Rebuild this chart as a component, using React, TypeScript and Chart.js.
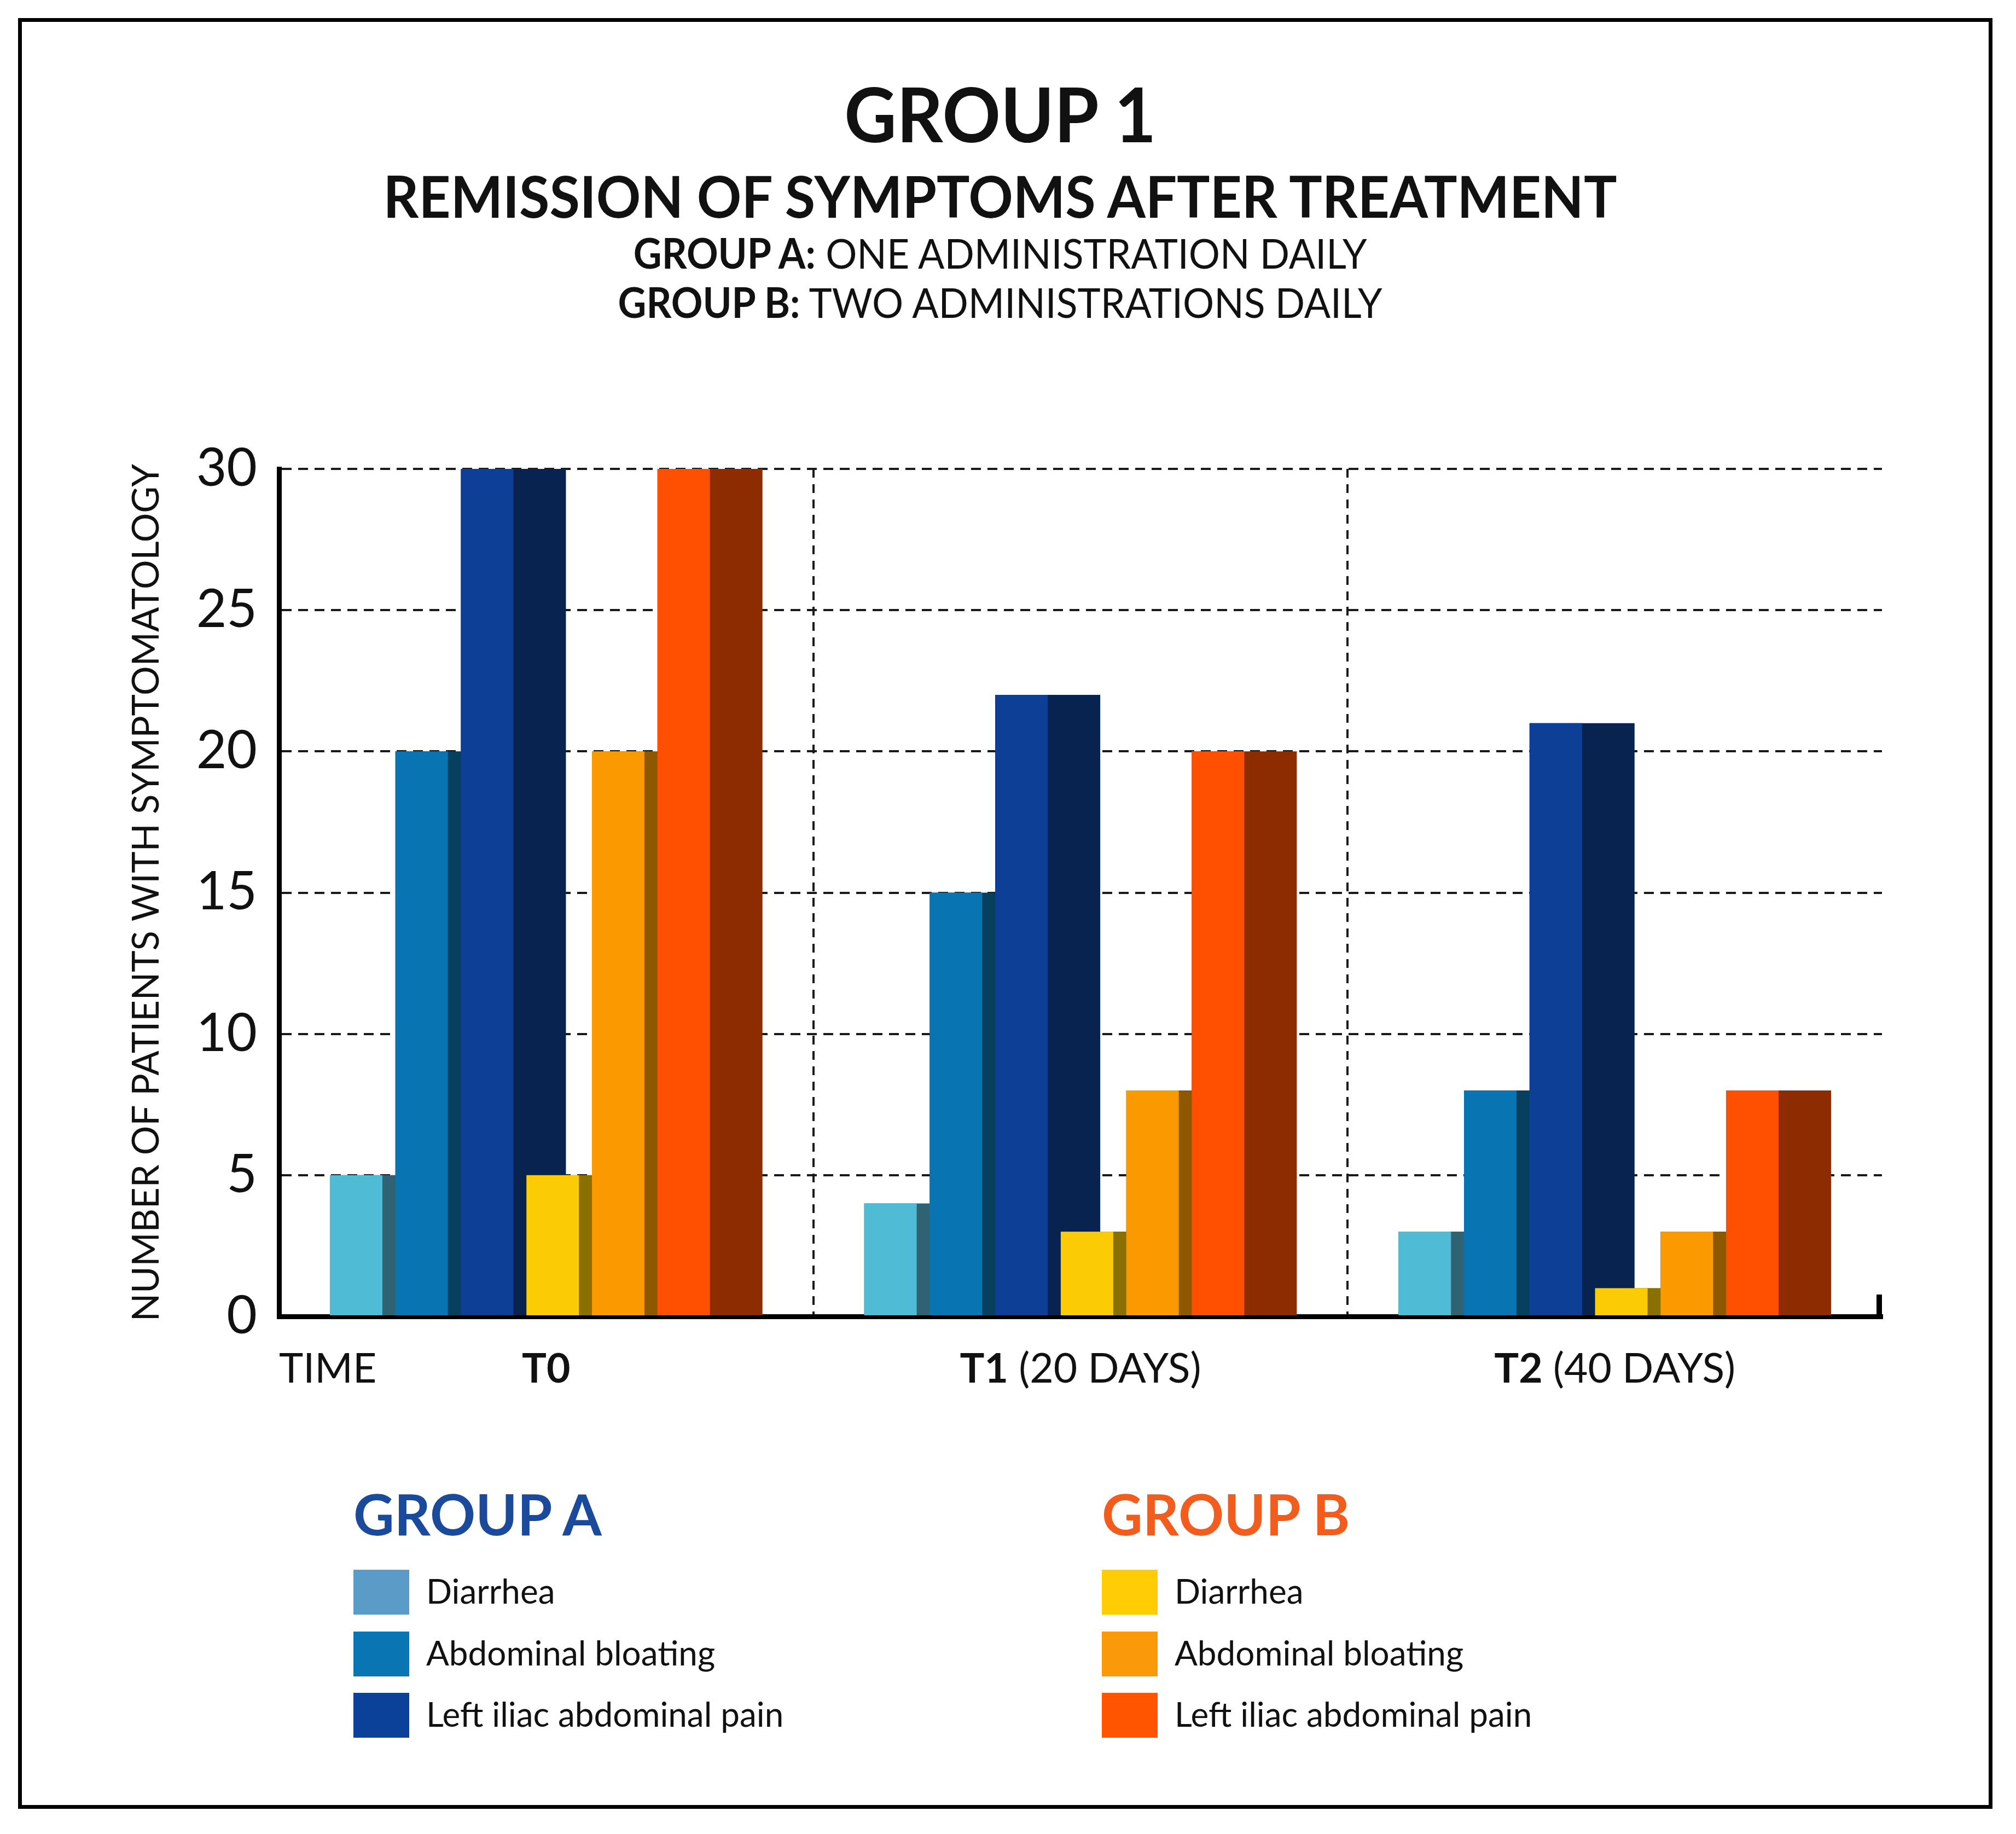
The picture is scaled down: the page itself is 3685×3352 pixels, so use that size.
import React, { useEffect, useRef } from "react";
import { Chart, registerables } from "chart.js";

Chart.register(...registerables);

// ---------- data ----------
const categories = ["T0", "T1 (20 DAYS)", "T2 (40 DAYS)"];
const xAxisLabel = "TIME";
const yAxisTitle = "NUMBER OF PATIENTS WITH SYMPTOMATOLOGY";
const yTicks = [0, 5, 10, 15, 20, 25, 30];

const symptoms = ["Diarrhea", "Abdominal bloating", "Left iliac abdominal pain"];
const groupADiarrhea = [5, 4, 3];
const groupABloating = [20, 15, 8];
const groupAPain = [30, 22, 21];
const groupBDiarrhea = [5, 3, 1];
const groupBBloating = [20, 8, 3];
const groupBPain = [30, 20, 8];

const titleText = "GROUP 1";
const subtitleText = "REMISSION OF SYMPTOMS AFTER TREATMENT";
const groupADesc = ["GROUP A:", "ONE ADMINISTRATION DAILY"];
const groupBDesc = ["GROUP B:", "TWO ADMINISTRATIONS DAILY"];
const groupAName = "GROUP A";
const groupBName = "GROUP B";

// ---------- styles ----------
const W = 3685;
const H = 3352;
const FONT = "Lato";
const INK = "#111111";

const frontColors = ["#50BBD5", "#0875B2", "#0D3F97", "#FBCB05", "#FA9900", "#FF4F00"];
const sideColors = ["#2F6374", "#073F5F", "#08234F", "#8A7000", "#8E5800", "#8C2C00"];
const legendAColors = ["#5B9BC8", "#0A75B3", "#0C419A"];
const legendBColors = ["#FFCC05", "#FA9A0A", "#FF5400"];
const groupAColor = "#1A4A9B";
const groupBColor = "#F25C1C";

const frontPlugin = {
  id: "barFronts",
  afterDatasetsDraw(chart: any) {
    const ctx = chart.ctx;
    chart.data.datasets.forEach((ds: any, di: number) => {
      const meta = chart.getDatasetMeta(di);
      meta.data.forEach((el: any) => {
        const { x, y, base, width } = el.getProps(["x", "y", "base", "width"], true);
        ctx.save();
        ctx.fillStyle = ds.frontColor;
        ctx.fillRect(x - width / 2, Math.min(y, base), width / 2, Math.abs(base - y));
        ctx.restore();
      });
    });
  },
};

const xLabelPlugin = {
  id: "xLabels",
  afterDraw(chart: any) {
    const { ctx, chartArea } = chart;
    const xs = chart.scales.x;
    const size = 75;
    const baseline = chartArea.bottom + 121;
    ctx.save();
    ctx.fillStyle = INK;
    ctx.textBaseline = "alphabetic";
    ctx.textAlign = "left";
    ctx.font = `400 ${size}px ${FONT}`;
    ctx.fillText(xAxisLabel, chartArea.left, baseline);
    categories.forEach((label, i) => {
      const sp = label.indexOf(" ");
      const boldPart = sp < 0 ? label : label.slice(0, sp);
      const rest = sp < 0 ? "" : label.slice(sp);
      ctx.font = `700 ${size}px ${FONT}`;
      const wb = ctx.measureText(boldPart).width;
      ctx.font = `400 ${size}px ${FONT}`;
      const wr = ctx.measureText(rest).width;
      const cx = xs.getPixelForValue(i);
      const left = cx - (wb + wr) / 2;
      ctx.font = `700 ${size}px ${FONT}`;
      ctx.fillText(boldPart, left, baseline);
      ctx.font = `400 ${size}px ${FONT}`;
      ctx.fillText(rest, left + wb, baseline);
    });
    // small closing tick at the end of the x axis
    ctx.fillStyle = "#000";
    ctx.fillRect(chartArea.right - 10, chartArea.bottom - 40, 10, 40);
    ctx.restore();
  },
};

function LegendGroup(props: { left: number; heading: string; color: string; colors: string[] }) {
  const { left, heading, color, colors } = props;
  const rowTops = [2869, 2982, 3094];
  return (
    <>
      <div
        style={{
          position: "absolute",
          left,
          top: 2715,
          fontSize: 103,
          fontWeight: 700,
          lineHeight: 1,
          color,
          whiteSpace: "nowrap",
        }}
      >
        {heading}
      </div>
      {symptoms.map((s, i) => (
        <div
          key={s}
          style={{
            position: "absolute",
            left,
            top: rowTops[i],
            height: 82,
            display: "flex",
            alignItems: "center",
            whiteSpace: "nowrap",
          }}
        >
          <div style={{ width: 102, height: 82, background: colors[i], marginRight: 31 }} />
          <div style={{ fontSize: 62, lineHeight: 1, color: INK, marginTop: -6 }}>{s}</div>
        </div>
      ))}
    </>
  );
}

function CenterLine(props: { top: number; size: number; bold?: boolean; squeeze: number; children: any }) {
  const { top, size, bold, squeeze, children } = props;
  return (
    <div
      style={{
        position: "absolute",
        left: 0,
        top,
        width: 3656,
        textAlign: "center",
        fontSize: size,
        fontWeight: bold ? 700 : 400,
        lineHeight: 1,
        whiteSpace: "nowrap",
      }}
    >
      <span style={{ display: "inline-block", transform: `scaleX(${squeeze})`, transformOrigin: "50% 50%" }}>
        {children}
      </span>
    </div>
  );
}

export default function App() {
  const canvasRef = useRef<HTMLCanvasElement | null>(null);

  useEffect(() => {
    if (!canvasRef.current) return;
    Chart.defaults.font.family = FONT;
    const seriesValues = [groupADiarrhea, groupABloating, groupAPain, groupBDiarrhea, groupBBloating, groupBPain];
    const seriesNames = [
      `${groupAName} ${symptoms[0]}`,
      `${groupAName} ${symptoms[1]}`,
      `${groupAName} ${symptoms[2]}`,
      `${groupBName} ${symptoms[0]}`,
      `${groupBName} ${symptoms[1]}`,
      `${groupBName} ${symptoms[2]}`,
    ];
    const chart = new Chart(canvasRef.current, {
      type: "bar",
      data: {
        labels: categories,
        datasets: seriesValues.map((vals, i) => ({
          label: seriesNames[i],
          data: vals,
          backgroundColor: sideColors[i],
          frontColor: frontColors[i],
          borderWidth: 0,
          barPercentage: 1.603,
          categoryPercentage: 0.7357,
        })) as any,
      },
      options: {
        animation: false,
        responsive: false,
        devicePixelRatio: 1,
        layout: { padding: { top: 857, right: 245, bottom: 946, left: 0 } },
        plugins: {
          legend: { display: false },
          tooltip: { enabled: false },
          title: { display: false },
        },
        scales: {
          x: {
            z: 1,
            offset: true,
            ticks: { display: false },
            grid: {
              display: true,
              drawTicks: false,
              offset: true,
              lineWidth: 4,
              color: (c: any) => (c.index === 1 || c.index === 2 ? "#1a1a1a" : "rgba(0,0,0,0)"),
            },
            border: { display: true, color: "#000", width: 9, dash: [16, 12] },
            afterFit: (scale: any) => {
              scale.height = 0;
            },
          },
          y: {
            min: 0,
            max: 30,
            afterBuildTicks: (scale: any) => {
              scale.ticks = yTicks.map((v) => ({ value: v }));
            },
            ticks: {
              font: { family: FONT, size: 96 },
              color: INK,
              padding: 40,
            },
            grid: {
              drawTicks: false,
              lineWidth: 4,
              color: (c: any) => (c.tick && c.tick.value === 0 ? "rgba(0,0,0,0)" : "#1a1a1a"),
            },
            border: { display: true, color: "#000", width: 9, dash: [18, 12] },
            title: {
              display: true,
              text: yAxisTitle,
              font: { family: FONT, size: 67 },
              color: INK,
              padding: { top: 228, bottom: 0 },
            },
            afterFit: (scale: any) => {
              scale.width = 510;
            },
          },
        },
      } as any,
      plugins: [frontPlugin, xLabelPlugin],
    });
    return () => chart.destroy();
  }, []);

  return (
    <div
      style={{
        position: "absolute",
        left: 0,
        top: 0,
        width: W,
        height: H,
        background: "#fff",
        overflow: "hidden",
        fontFamily: FONT,
        color: INK,
      }}
    >
      <canvas
        ref={canvasRef}
        width={W}
        height={H}
        style={{ position: "absolute", left: 0, top: 0, width: W, height: H }}
      />
      <div
        style={{
          position: "absolute",
          left: 33,
          top: 33,
          width: 3642 - 33,
          height: 3306 - 33,
          border: "7px solid #000",
          boxSizing: "border-box",
          pointerEvents: "none",
        }}
      />
      <CenterLine top={138} size={138} bold squeeze={0.956}>
        {titleText}
      </CenterLine>
      <CenterLine top={304} size={106} bold squeeze={0.953}>
        {subtitleText}
      </CenterLine>
      {[groupADesc, groupBDesc].map((d, i) => (
        <CenterLine key={d[0]} top={i === 0 ? 424 : 514} size={76} squeeze={0.94}>
          <span style={{ fontWeight: 700 }}>{d[0]}</span> {d[1]}
        </CenterLine>
      ))}
      <LegendGroup left={646} heading={groupAName} color={groupAColor} colors={legendAColors} />
      <LegendGroup left={2014} heading={groupBName} color={groupBColor} colors={legendBColors} />
    </div>
  );
}
